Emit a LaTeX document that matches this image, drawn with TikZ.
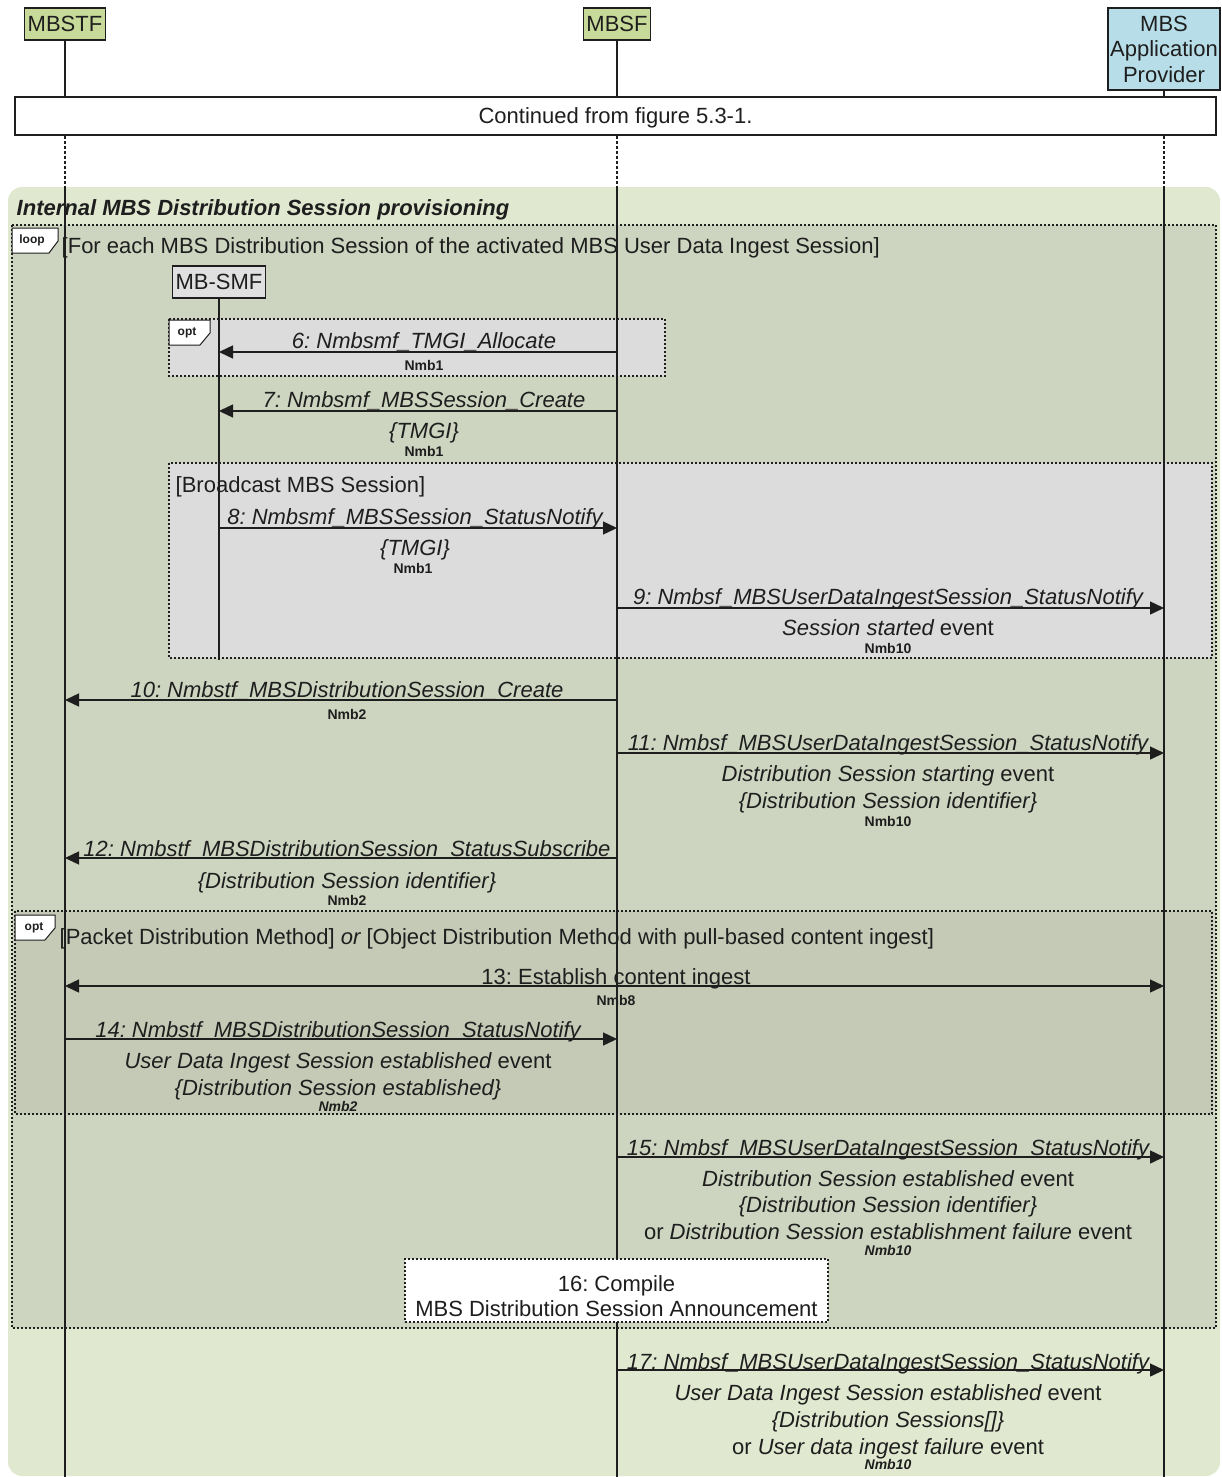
\documentclass[tikz,border=0pt]{standalone}
\usepackage{fontspec}
\setmainfont{Liberation Sans}
\usetikzlibrary{arrows.meta}
\definecolor{hdgreen}{HTML}{C8DA9A}
\definecolor{apblue}{HTML}{B7DEE8}
\definecolor{regionc}{HTML}{E1E8D0}
\definecolor{loopc}{HTML}{CDD4BF}
\definecolor{optgray}{HTML}{DCDCDC}
\definecolor{optc}{HTML}{C4CAB6}
\definecolor{smfgray}{HTML}{E0E0E0}
\definecolor{ink}{HTML}{1E1E1E}
\frenchspacing

\begin{document}
\begin{tikzpicture}[x=1pt, y=-1pt, line width=1.4pt, draw=ink, text=ink,
	hd/.style = {draw, fill=hdgreen, inner sep=3pt, minimum height=32pt, font=\fontsize{22}{25.5}\selectfont},
	msg/.style = {-{Triangle[length=14pt,width=13pt]}},
	lbl/.style = {anchor=mid, inner sep=0pt, yshift=-6pt, font=\fontsize{22}{26}\selectfont\itshape},
	txt/.style = {anchor=mid, inner sep=0pt, yshift=-6pt, font=\fontsize{22}{26}\selectfont},
	ifc/.style = {anchor=mid, inner sep=0pt, yshift=-3pt, font=\fontsize{14}{16}\selectfont\bfseries},
	tag/.style = {inner sep=0pt, font=\fontsize{12}{14}\selectfont\bfseries},
	frame/.style = {dash pattern=on 2pt off 2pt, line width=1.4pt},
	life/.style = {line width=1.4pt}]
	\useasboundingbox (0,0) rectangle (1221,1477);

	\node[hd] (stf) at (65,24) {MBSTF};
	\node[hd] (sf) at (617,24) {MBSF};
	\node[hd, fill=apblue, align=center, inner sep=1pt, text depth=0pt, minimum width=112pt, minimum height=82pt] (ap) at (1164,49) {MBS\\Application\\Provider};
	\node[draw, fill=white, minimum width=1201pt, minimum height=38pt, text depth=0pt, font=\fontsize{22}{26}\selectfont] (cont) at (615.5,116) {Continued from figure 5.3-1.};

	\foreach \l in {stf,sf,ap} {
		\draw[life] (\l) -- (\l |- cont.north);
		\draw[life, dash pattern=on 3pt off 2pt] (\l |- cont.south) -- (\l |- 0,187);
	}

	\fill[regionc, rounded corners=14pt] (8,187) rectangle (1220,1476);
	\node[anchor=mid west, inner sep=0pt, yshift=-6pt, font=\fontsize{22}{26}\selectfont\bfseries\itshape] (title) at (16,207) {Internal MBS Distribution Session provisioning};

	\draw[frame, fill=loopc] (12,225) rectangle (1216,1328);
	\draw[fill=white, line width=1pt] (12,228) -- (58,228) -- (58,241) -- (49,253) -- (12,253) -- cycle;
	\node[tag] (looptag) at (32,240) {loop};
	\node[txt, anchor=mid west] (loopguard) at (61,245) {[For each MBS Distribution Session of the activated MBS User Data Ingest Session]};

	\draw[frame, fill=optgray] (169,319) rectangle (665,376);
	\draw[fill=white, line width=1pt] (169,320) -- (210,320) -- (210,333) -- (200,345) -- (169,345) -- cycle;
	\node[tag] (opttag) at (187,333) {opt};

	\draw[frame, fill=optgray] (169,463) rectangle (1212,658);
	\node[txt, anchor=mid west] (bcguard) at (175,484) {[Broadcast MBS Session]};

	\draw[frame, fill=optc] (15,911) rectangle (1212,1114);
	\draw[fill=white, line width=1pt] (15,915) -- (55,915) -- (55,928) -- (45,940) -- (15,940) -- cycle;
	\node[tag] (opttag2) at (34,928) {opt};
	\node[txt, anchor=mid west] (pdguard) at (59,936) {[Packet Distribution Method] {\itshape or} [Object Distribution Method with pull-based content ingest]};

	\node[hd, fill=smfgray] (smf) at (219,282) {MB-SMF};
	\draw[life] (smf) -- (smf |- 0,660);
	\foreach \l in {stf,sf,ap}
		\draw[life] (\l |- 0,187) -- (\l |- 0,1477);

	\node[draw, frame, fill=white, minimum width=423pt, minimum height=63pt, align=center, inner sep=0pt, font=\fontsize{22}{25}\selectfont] (compile) at (616.5,1290.5) {\rule{0pt}{28pt}16: Compile\\MBS Distribution Session Announcement};

	\draw[msg] (sf |- 0,352) -- (smf |- 0,352);
	\node[lbl] (l6) at (424,340) {6: Nmbsmf\_TMGI\_Allocate};
	\node[ifc] (i6) at (424,365) {Nmb1};

	\draw[msg] (sf |- 0,411) -- (smf |- 0,411);
	\node[lbl] (l7) at (424,399) {7: Nmbsmf\_MBSSession\_Create};
	\node[lbl] (p7) at (424,430) {\{TMGI\}};
	\node[ifc] (i7) at (424,451) {Nmb1};

	\draw[msg] (smf |- 0,528) -- (sf |- 0,528);
	\node[lbl] (l8) at (415,516) {8: Nmbsmf\_MBSSession\_StatusNotify};
	\node[lbl] (p8) at (415,547) {\{TMGI\}};
	\node[ifc] (i8) at (413,568) {Nmb1};

	\draw[msg] (sf |- 0,608) -- (ap |- 0,608);
	\node[lbl] (l9) at (888,596) {9: Nmbsf\_MBSUserDataIngestSession\_StatusNotify};
	\node[txt] (p9) at (888,627) {{\itshape Session started} event};
	\node[ifc] (i9) at (888,648) {Nmb10};

	\draw[msg] (sf |- 0,700) -- (stf |- 0,700);
	\node[lbl] (l10) at (347,689) {10: Nmbstf\_MBSDistributionSession\_Create};
	\node[ifc] (i10) at (347,714) {Nmb2};

	\draw[msg] (sf |- 0,753) -- (ap |- 0,753);
	\node[lbl] (l11) at (888,742) {11: Nmbsf\_MBSUserDataIngestSession\_StatusNotify};
	\node[txt] (p11) at (888,773) {{\itshape Distribution Session starting} event};
	\node[lbl] (q11) at (888,800) {\{Distribution Session identifier\}};
	\node[ifc] (i11) at (888,821) {Nmb10};

	\draw[msg] (sf |- 0,858) -- (stf |- 0,858);
	\node[lbl] (l12) at (347,848) {12: Nmbstf\_MBSDistributionSession\_StatusSubscribe};
	\node[lbl] (p12) at (347,880) {\{Distribution Session identifier\}};
	\node[ifc] (i12) at (347,900) {Nmb2};

	\draw[{Triangle[length=14pt,width=13pt]}-{Triangle[length=14pt,width=13pt]}] (stf |- 0,986) -- (ap |- 0,986);
	\node[txt] (l13) at (616,976) {13: Establish content ingest};
	\node[ifc] (i13) at (616,1000) {Nmb8};

	\draw[msg] (stf |- 0,1039) -- (sf |- 0,1039);
	\node[lbl] (l14) at (338,1029) {14: Nmbstf\_MBSDistributionSession\_StatusNotify};
	\node[txt] (p14) at (338,1060) {{\itshape User Data Ingest Session established} event};
	\node[lbl] (q14) at (338,1087) {\{Distribution Session established\}};
	\node[ifc, font=\fontsize{14}{16}\selectfont\bfseries\itshape] (i14) at (338,1106) {Nmb2};

	\draw[msg] (sf |- 0,1157) -- (ap |- 0,1157);
	\node[lbl] (l15) at (888,1147) {15: Nmbsf\_MBSUserDataIngestSession\_StatusNotify};
	\node[txt] (p15) at (888,1178) {{\itshape Distribution Session established} event};
	\node[lbl] (q15) at (888,1204) {\{Distribution Session identifier\}};
	\node[txt] (r15) at (888,1231) {or {\itshape Distribution Session establishment failure} event};
	\node[ifc, font=\fontsize{14}{16}\selectfont\bfseries\itshape] (i15) at (888,1250) {Nmb10};

	\draw[msg] (sf |- 0,1370) -- (ap |- 0,1370);
	\node[lbl] (l17) at (888,1361) {17: Nmbsf\_MBSUserDataIngestSession\_StatusNotify};
	\node[txt] (p17) at (888,1392) {{\itshape User Data Ingest Session established} event};
	\node[lbl] (q17) at (888,1419) {\{Distribution Sessions[]\}};
	\node[txt] (r17) at (888,1446) {or {\itshape User data ingest failure} event};
	\node[ifc, font=\fontsize{14}{16}\selectfont\bfseries\itshape] (i17) at (888,1464) {Nmb10};
\end{tikzpicture}
\end{document}
